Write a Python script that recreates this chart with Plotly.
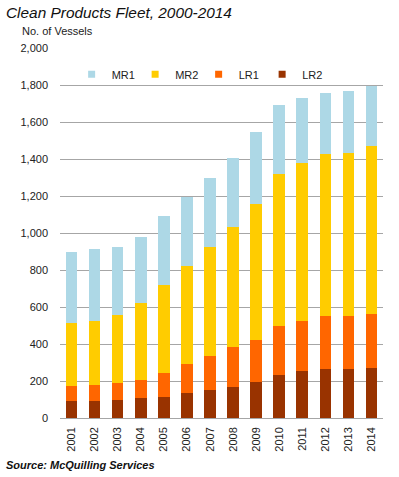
import plotly.graph_objects as go

years = [str(y) for y in range(2001, 2015)]
lr2 = [92, 92, 96, 110, 114, 134, 154, 170, 192, 230, 252, 263, 265, 270]
lr1 = [82, 87, 91, 98, 131, 159, 179, 212, 232, 270, 275, 290, 288, 291]
mr2 = [338, 346, 369, 412, 472, 531, 591, 651, 735, 817, 850, 873, 882, 910]
mr1 = [383, 386, 368, 360, 374, 373, 373, 375, 388, 375, 351, 333, 335, 324]

series = [("LR2", lr2, "#993300"), ("LR1", lr1, "#FF6600"),
          ("MR2", mr2, "#FFCC00"), ("MR1", mr1, "#ADD8E6")]

FONT = "Liberation Sans, Arial, sans-serif"
fig = go.Figure()
for name, vals, col in series:
    fig.add_trace(go.Bar(x=years, y=vals, name=name, marker_color=col,
                         marker_line_width=0, showlegend=False))
# legend-only entries with small square swatches
for name, vals, col in series:
    fig.add_trace(go.Scatter(x=[None], y=[None], mode="markers", name=name,
                             marker=dict(symbol="square", size=7, color=col)))

fig.update_layout(
    width=399, height=477,
    barmode="stack", bargap=0.5,
    plot_bgcolor="white", paper_bgcolor="white",
    margin=dict(l=60, r=16, t=48, b=59),
    font=dict(family=FONT, size=11, color="#222222"),
    legend=dict(orientation="h", traceorder="reversed", x=0.036, y=0.968,
                xanchor="left", yanchor="top", bgcolor="rgba(0,0,0,0)",
                font=dict(size=11), itemwidth=30,
                entrywidth=18.5, entrywidthmode="pixels"),
    xaxis=dict(type="category", tickangle=-90, showgrid=False, showline=False,
               ticks="", ticklabelstandoff=6, tickfont=dict(size=11, color="#222222")),
    yaxis=dict(range=[0, 2000], dtick=200, tickformat=",d", showgrid=True,
               gridcolor="#A6A6A6", gridwidth=1, zeroline=True,
               zerolinecolor="#A6A6A6", zerolinewidth=1, showline=False,
               ticks="", ticklabelstandoff=11,
               tickfont=dict(size=11, color="#222222")),
    annotations=[
        dict(text="<i>Clean Products Fleet, 2000-2014</i>", xref="paper", yref="paper",
             x=-56/323, y=(418-12)/370, xanchor="left", yanchor="middle",
             showarrow=False, font=dict(size=15.4, color="#111111")),
        dict(text="No. of Vessels", xref="paper", yref="paper",
             x=-40/323, y=(418-31)/370, xanchor="left", yanchor="middle",
             showarrow=False, font=dict(size=11, color="#222222")),
        dict(text="<b><i>Source: McQuilling Services</i></b>", xref="paper", yref="paper",
             x=-56/323, y=(418-465)/370, xanchor="left", yanchor="middle",
             showarrow=False, font=dict(size=11, color="#111111")),
    ],
)
fig.write_html("out.html", config={"displayModeBar": False},
               post_script="document.body.style.margin='0';")
